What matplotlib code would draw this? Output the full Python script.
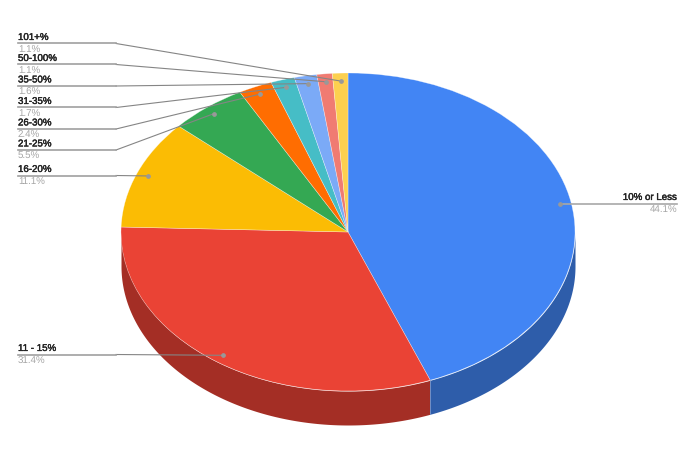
import numpy as np
from matplotlib import pyplot as plt
from matplotlib import patheffects

labels = ['10% or Less', '11 - 15%', '16-20%', '21-25%', '26-30%', '31-35%', '35-50%', '50-100%', '101+%']
values = [44.1, 31.4, 11.1, 5.5, 2.4, 1.7, 1.6, 1.1, 1.1]
colors = ['#4285f4', '#ea4335', '#fbbc04', '#34a853', '#ff6d01', '#46bdc6', '#7baaf7', '#f07b72', '#fcd04f']
wall_colors = {0: '#2e5daa', 1: '#a42e25'}

# layout in pixels of the 690x469 picture
cx, cy, rx, ry = 348, 232, 227, 159
depth = 34
label_y = {0: 203.5, 1: 354.5, 2: 175.5, 3: 150, 4: 129, 5: 107.5, 6: 86, 7: 64.5, 8: 43.5}
left_x, elbow_x, right_x = 18, 116, 677

plt.rcParams['font.family'] = ['Liberation Sans', 'DejaVu Sans']
plt.rcParams['text.hinting'] = 'none'


def px(x):
    return (x - cx) / rx


def py(y):
    return (cy - y) / ry


fig = plt.figure(figsize=(6.9, 4.69), dpi=100)
ax = fig.add_axes([0, 0, 1, 1])

values = np.array(values)
edges = np.concatenate([[0], np.cumsum(values)]) / values.sum() * 2 * np.pi

# side wall, only the front half of the ellipse shows
d = depth / ry
for i, c in wall_colors.items():
    t = np.linspace(max(edges[i], np.pi / 2), min(edges[i + 1], 3 * np.pi / 2), 200)
    ax.fill_between(np.sin(t), np.cos(t) - d, np.cos(t), color=c, linewidth=0, zorder=1)
t = edges[1]
ax.plot([np.sin(t), np.sin(t)], [np.cos(t) - d, np.cos(t)], color='#6f8fc8', linewidth=0.7, zorder=1.5)

ax.pie(values, colors=colors, startangle=90, counterclock=False, radius=1,
       wedgeprops={'linewidth': 0.4, 'edgecolor': '#ffffff80', 'zorder': 2})
ax.set_aspect('auto')
ax.set_xlim(px(0), px(690))
ax.set_ylim(py(469), py(0))
ax.axis('off')

# leader lines and labels
heavier = [patheffects.withStroke(linewidth=0.3, foreground='#222222')]
for i, name in enumerate(labels):
    mid = (edges[i] + edges[i + 1]) / 2
    dot_x, dot_y = 0.95 * np.sin(mid), 0.95 * np.cos(mid)
    y = py(label_y[i])
    if i == 0:
        ax.plot([dot_x, px(right_x)], [y, y], color='#a8a8a8', linewidth=1.2, zorder=3)
        tx, ha = px(right_x), 'right'
    else:
        ax.plot([dot_x, px(elbow_x)], [dot_y, y], color='#858585', linewidth=0.8, zorder=3)
        ax.plot([px(elbow_x), px(left_x)], [y, y], color='#a0a0a0', linewidth=1.2, zorder=3)
        tx, ha = px(left_x), 'left'
    ax.plot(dot_x, dot_y, 'o', color='#999999', markersize=2.4, zorder=4)
    ax.text(tx, y + 1.5 / ry, name, ha=ha, va='bottom', fontsize=7.0, color='#222222', zorder=5,
            path_effects=heavier)
    ax.text(tx, y - 1.8 / ry, '%.1f%%' % values[i], ha=ha, va='top', fontsize=7.0, color='#a6a6a6', zorder=5)

fig.savefig('out.png', dpi=100, facecolor='white')
